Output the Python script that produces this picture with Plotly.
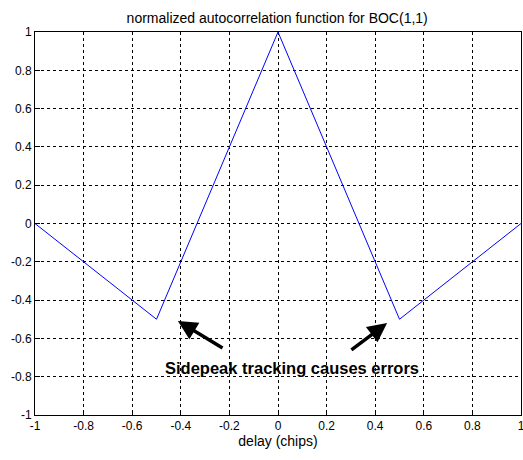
import plotly.graph_objects as go

delay = [-1.0, -0.5, 0.0, 0.5, 1.0]
acf = [0.0, -0.5, 1.0, -0.5, 0.0]
xticks = [-1, -0.8, -0.6, -0.4, -0.2, 0, 0.2, 0.4, 0.6, 0.8, 1]
yticks = [-1, -0.8, -0.6, -0.4, -0.2, 0, 0.2, 0.4, 0.6, 0.8, 1]
xticklabels = ["-1", "-0.8", "-0.6", "-0.4", "-0.2", "0", "0.2", "0.4", "0.6", "0.8", "1"]
yticklabels = ["-1", "-0.8", "-0.6", "-0.4", "-0.2", "0", "0.2", "0.4", "0.6", "0.8", "1"]

font = "Liberation Sans, Arial, sans-serif"

fig = go.Figure()
fig.add_trace(go.Scatter(x=delay, y=acf, mode="lines",
                         line=dict(color="rgb(0,0,255)", width=1),
                         showlegend=False, hoverinfo="skip", cliponaxis=False))

axis_common = dict(showline=True, linecolor="black", linewidth=1, mirror=True,
                   ticks="inside", ticklen=5, tickcolor="black",
                   showgrid=True, gridcolor="black", gridwidth=1, griddash="3px,3px",
                   zeroline=False, automargin=False,
                   tickfont=dict(family=font, size=12, color="black"))

fig.update_xaxes(range=[-1, 1], tickvals=xticks, ticktext=xticklabels,
                 title=dict(text="delay (chips)", font=dict(family=font, size=14, color="black"), standoff=2),
                 ticklabeloverflow="allow", **axis_common)
fig.update_yaxes(range=[-1, 1], tickvals=yticks, ticktext=yticklabels, **axis_common)

arrows = [(-0.222, -0.655, -0.412, -0.509), (0.296, -0.666, 0.449, -0.520)]
for tx, ty, hx, hy in arrows:
    fig.add_annotation(x=hx, y=hy, ax=tx, ay=ty, xref="x", yref="y", axref="x", ayref="y",
                       text="", showarrow=True, arrowhead=2, arrowsize=1.1, arrowwidth=3.5,
                       arrowcolor="black")

fig.add_annotation(x=0.058, y=-0.755, xref="x", yref="y", text="<b>Sidepeak tracking causes errors</b>",
                   showarrow=False, font=dict(family=font, size=16.5, color="black"))

fig.update_layout(
    width=523, height=460,
    margin=dict(l=35, r=2, t=32, b=45),
    paper_bgcolor="white", plot_bgcolor="white",
    title=dict(text="normalized autocorrelation function for BOC(1,1)", x=0.53, xanchor="center",
               y=0.961, yanchor="middle", font=dict(family=font, size=14, color="black")),
)

fig.write_html("out.html", config={"displayModeBar": False},
               post_script="document.body.style.margin='0';document.body.style.overflow='hidden';")
